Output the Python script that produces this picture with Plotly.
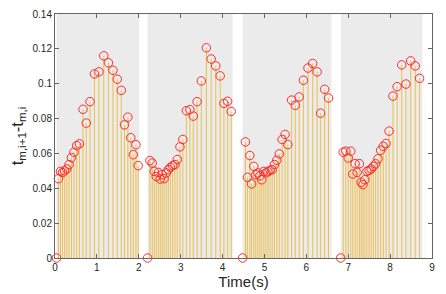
import numpy as np
import plotly.graph_objects as go

# Segment start times (s) and shaded window ends (s)
seg_starts = [0.036, 2.21, 4.48, 6.82]
seg_ends = [2.01, 4.24, 6.60, 8.77]

# Interval values t_{m,i+1}-t_{m,i} per segment (first point of each segment is 0)
seg1 = [0, 0.0455, 0.0497, 0.049, 0.050, 0.0511, 0.0536, 0.0576, 0.0607, 0.0645, 0.0655,
        0.0853, 0.0774, 0.0897, 0.1056, 0.1068, 0.116, 0.112, 0.1077, 0.1026, 0.0962,
        0.0764, 0.0808, 0.069, 0.0593, 0.065, 0.053]
seg2 = [0, 0.0559, 0.0545, 0.0497, 0.0468, 0.0491, 0.0453, 0.0478, 0.0455, 0.0488, 0.0507,
        0.052, 0.053, 0.0536, 0.0565, 0.0638, 0.068, 0.0845, 0.0851, 0.0814, 0.0897,
        0.1016, 0.1206, 0.1142, 0.1102, 0.1045, 0.0887, 0.0899, 0.0841]
seg3 = [0, 0.0666, 0.0463, 0.0588, 0.0425, 0.0526, 0.0478, 0.0488, 0.0472, 0.0449, 0.0497,
        0.0488, 0.0495, 0.0503, 0.0507, 0.0536, 0.0561, 0.0597, 0.068, 0.0709, 0.0651,
        0.0906, 0.0876, 0.0924, 0.102, 0.109, 0.1116, 0.1068, 0.0831, 0.0968, 0.0918]
seg4 = [0, 0.0607, 0.0613, 0.0574, 0.0613, 0.0482, 0.0541, 0.0491, 0.0541, 0.0434, 0.0421,
        0.0449, 0.0497, 0.0503, 0.0511, 0.0526, 0.054, 0.0569, 0.0618, 0.0641, 0.0657,
        0.0728, 0.0929, 0.0983, 0.1108, 0.0998, 0.1131, 0.1102, 0.1031]

x_ticks = [0, 1, 2, 3, 4, 5, 6, 7, 8, 9]
y_ticks = [0, 0.02, 0.04, 0.06, 0.08, 0.1, 0.12, 0.14]
y_tick_text = ["0", "0.02", "0.04", "0.06", "0.08", "0.1", "0.12", "0.14"]

xs, ys = [], []
for start, seg in zip(seg_starts, [seg1, seg2, seg3, seg4]):
    t = start + np.cumsum(seg)
    xs.extend(t.tolist())
    ys.extend(seg)

stem_x, stem_y = [], []
for xv, yv in zip(xs, ys):
    stem_x += [xv, xv, None]
    stem_y += [0, yv, None]

fig = go.Figure()
fig.add_trace(go.Scatter(x=stem_x, y=stem_y, mode="lines",
                         line=dict(color="rgba(237,177,32,0.85)", width=0.9), hoverinfo="skip",
                         showlegend=False))
fig.add_trace(go.Scatter(x=xs, y=ys, mode="markers",
                         marker=dict(symbol="circle-open", size=8.5, color="#FF2A2A",
                                     line=dict(width=1, color="#FF2A2A")),
                         cliponaxis=False, showlegend=False))

for s, e in zip(seg_starts, seg_ends):
    fig.add_shape(type="rect", x0=s, x1=e, y0=0, y1=0.14, xref="x", yref="y",
                  fillcolor="#EBEBEB", line=dict(width=0), layer="below")

axis_common = dict(showline=True, linecolor="#666666", linewidth=1, mirror="ticks",
                   ticks="inside", ticklen=4, tickcolor="#666666", showgrid=False,
                   zeroline=False, automargin=False,
                   tickfont=dict(family="Liberation Sans, Arial", size=10, color="#262626"))

# page body has an 8px default margin, so the figure is 8px smaller and margins offset
fig.update_layout(
    width=438, height=286,
    margin=dict(l=46.5, r=14.3, t=6, b=36),
    paper_bgcolor="white", plot_bgcolor="white",
    xaxis=dict(range=[0, 9], tickvals=x_ticks, ticktext=[str(v) for v in x_ticks],
               title=dict(text="Time(s)", standoff=2,
                          font=dict(family="Liberation Sans, Arial", size=15, color="#262626")),
               **axis_common),
    yaxis=dict(range=[0, 0.14], tickvals=y_ticks, ticktext=y_tick_text,
               title=dict(text="t<sub>m,i+1</sub>-t<sub>m,i</sub>", standoff=6,
                          font=dict(family="Liberation Sans, Arial", size=16.5, color="#262626")),
               **axis_common),
)

fig.write_html("out.html")
